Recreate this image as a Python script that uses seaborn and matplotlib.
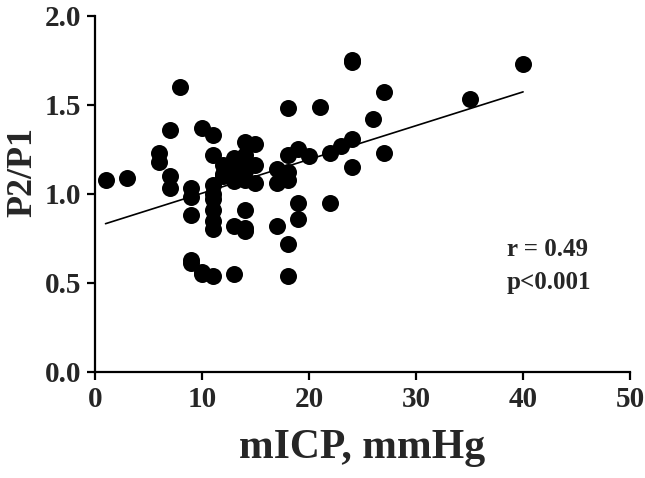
import numpy as np
import pandas as pd
import matplotlib
matplotlib.use("Agg")
import matplotlib.pyplot as plt
import seaborn as sns

# mICP (mmHg) and P2/P1
micp = [1, 3, 6, 6, 7, 7, 7, 8, 9, 9, 9, 9, 9, 10, 10, 11, 13,
        10, 11, 11, 11, 11, 11, 11, 11, 11,
        12, 12, 13, 13, 13, 14, 14, 14, 14, 14, 15, 15, 15, 12, 13,
        13, 14, 14, 14,
        17, 17, 18, 18, 18, 19, 20, 22, 23, 24, 24, 24, 24, 26, 27, 27,
        18, 21, 19, 22, 19, 17, 18, 18, 35, 40]
ratio = [1.08, 1.09, 1.23, 1.18, 1.36, 1.10, 1.03, 1.60, 1.03, 0.98, 0.88, 0.63, 0.61, 0.55, 0.56, 0.54, 0.55,
         1.37, 1.33, 1.22, 1.05, 0.97, 0.91, 0.85, 0.80, 1.00,
         1.16, 1.10, 1.16, 1.20, 1.07, 1.29, 1.22, 1.17, 1.13, 1.08, 1.28, 1.16, 1.06, 1.11, 1.12,
         0.82, 0.91, 0.81, 0.79,
         1.14, 1.06, 1.08, 1.12, 1.22, 1.25, 1.21, 1.23, 1.27, 1.31, 1.15, 1.75, 1.74, 1.42, 1.57, 1.23,
         1.48, 1.49, 0.95, 0.95, 0.86, 0.82, 0.72, 0.54, 1.53, 1.73]

stat_lines = ["r = 0.49", "p<0.001"]

df = pd.DataFrame({"mICP": micp, "P2P1": ratio})

sns.set_style("ticks")
plt.rcParams['font.family'] = ['Liberation Serif', 'DejaVu Serif']
plt.rcParams['font.weight'] = 'bold'

fig = plt.figure(figsize=(6.45, 4.78), dpi=100)
ax = fig.add_axes([0.147, 0.222, 0.83, 0.745])

sns.regplot(data=df, x="mICP", y="P2P1", ax=ax, ci=None,
            scatter_kws={"s": 150, "color": "black", "alpha": 1, "linewidths": 0},
            line_kws={"color": "black", "lw": 1.2})

ax.set_xlim(0, 50)
ax.set_ylim(0, 2.0)
ax.set_xticks([0, 10, 20, 30, 40, 50])
ax.set_yticks([0.0, 0.5, 1.0, 1.5, 2.0])
ax.set_yticklabels(["0.0", "0.5", "1.0", "1.5", "2.0"])
ax.tick_params(labelsize=21, width=1.6, length=6, color="black", pad=4)
for lab in ax.get_xticklabels() + ax.get_yticklabels():
    lab.set_fontweight("bold")

sns.despine(ax=ax)
for sp in ["left", "bottom"]:
    ax.spines[sp].set_linewidth(1.6)
    ax.spines[sp].set_color("black")

ax.set_xlabel("mICP, mmHg", fontsize=30, fontweight="bold", labelpad=12)
ax.set_ylabel("P2/P1", fontsize=26, fontweight="bold")
ax.yaxis.set_label_coords(-0.104, 0.56)

ax.text(38.5, 0.69, stat_lines[0], fontsize=18, fontweight="bold", va="center")
ax.text(38.5, 0.50, stat_lines[1], fontsize=18, fontweight="bold", va="center")

fig.savefig("out.png", dpi=100)
